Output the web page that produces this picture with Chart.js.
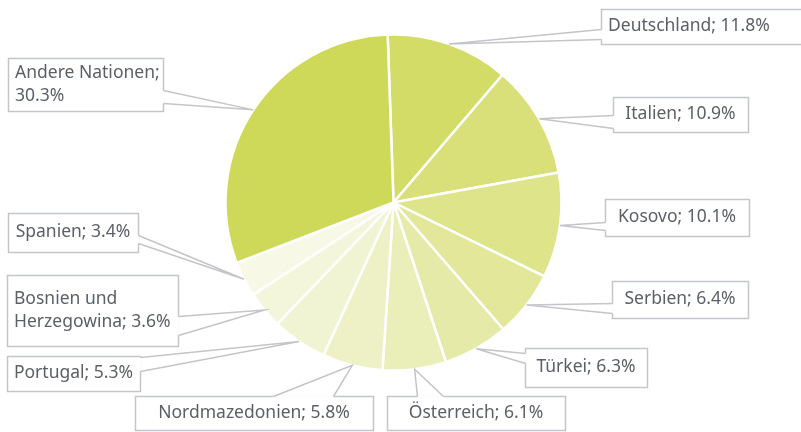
<!DOCTYPE html>
<html>
<head>
<meta charset="utf-8">
<script src="https://cdn.jsdelivr.net/npm/chart.js@4"></script>
<style>
  html, body { margin: 0; padding: 0; background: #fff; }
  #wrap { width: 801px; height: 432px; }
</style>
</head>
<body>
<div id="wrap"><canvas id="pie" width="801" height="432"></canvas></div>
<script>
/* DATA */
const nations = ["Deutschland", "Italien", "Kosovo", "Serbien", "Türkei", "Österreich",
  "Nordmazedonien", "Portugal", "Bosnien und Herzegowina", "Spanien", "Andere Nationen"];
const shares = [11.8, 10.9, 10.1, 6.4, 6.3, 6.1, 5.8, 5.3, 3.6, 3.4, 30.3];

/* STYLE */
const sliceColors = ["#d4dc68", "#d9e07a", "#dee48a", "#e2e799", "#e6eaa8", "#eaeeb8",
  "#eef1c6", "#f1f4d2", "#f4f6dc", "#f7f8e6", "#cfd959"];
const TEXT = "#5b5f66";
const LINE = "#c4c5c9";
const FONT = "17.5px 'Noto Sans'";

// callout boxes: x, y, w, h, text lines, side the pointer leaves from, base span along that side
const boxes = [
  { x: 601, y: 9, w: 210, h: 35, lines: ["Deutschland; 11.8%"], align: "left", side: "left", b: [29, 39] },
  { x: 613, y: 97, w: 135, h: 35, lines: ["Italien; 10.9%"], side: "left", b: [115, 128] },
  { x: 605, y: 199, w: 144, h: 37, lines: ["Kosovo; 10.1%"], side: "left", b: [222, 230] },
  { x: 612, y: 281, w: 136, h: 37, lines: ["Serbien; 6.4%"], side: "left", b: [303, 313] },
  { x: 525, y: 348, w: 122, h: 39, lines: ["Türkei; 6.3%"], side: "left", b: [353, 363] },
  { x: 387, y: 396, w: 178, h: 34, lines: ["Österreich; 6.1%"], side: "top", b: [417, 443] },
  { x: 135, y: 396, w: 238, h: 34, lines: ["Nordmazedonien; 5.8%"], side: "top", b: [273, 333] },
  { x: 7, y: 356, w: 133, h: 35, lines: ["Portugal; 5.3%"], side: "right", b: [357, 371] },
  { x: 7, y: 275, w: 171, h: 71, lines: ["Bosnien und", "Herzegowina; 3.6%"], align: "left", side: "right", b: [316, 335] },
  { x: 8, y: 213, w: 130, h: 39, lines: ["Spanien; 3.4%"], side: "right", b: [235, 243] },
  { x: 8, y: 58, w: 155, h: 53, lines: ["Andere Nationen;", "30.3%"], align: "left", side: "right", b: [90, 103] }
];

/* CALLOUTS */
const callouts = {
  id: "callouts",
  afterDraw(c) {
    const ctx = c.ctx;
    const arcs = c.getDatasetMeta(0).data;
    ctx.save();
    ctx.font = FONT;
    arcs.forEach((a, i) => {
      const bx = boxes[i];
      const mid = (a.startAngle + a.endAngle) / 2;
      const ax = a.x + Math.cos(mid) * a.outerRadius;
      const ay = a.y + Math.sin(mid) * a.outerRadius;
      let p1, p2;
      if (bx.side === "left") { p1 = [bx.x, bx.b[0]]; p2 = [bx.x, bx.b[1]]; }
      else if (bx.side === "right") { p1 = [bx.x + bx.w, bx.b[0]]; p2 = [bx.x + bx.w, bx.b[1]]; }
      else { p1 = [bx.b[0], bx.y]; p2 = [bx.b[1], bx.y]; }

      ctx.fillStyle = "#fff";
      ctx.fillRect(bx.x, bx.y, bx.w, bx.h);
      ctx.lineWidth = 1.5;
      ctx.strokeStyle = LINE;
      ctx.strokeRect(bx.x + 0.5, bx.y + 0.5, bx.w, bx.h);
      // open the border where the pointer starts
      ctx.strokeStyle = "#fff";
      ctx.lineWidth = 2.5;
      ctx.beginPath();
      ctx.moveTo(p1[0] + 0.5, p1[1] + 0.5);
      ctx.lineTo(p2[0] + 0.5, p2[1] + 0.5);
      ctx.stroke();
      ctx.lineWidth = 1.5;
      ctx.strokeStyle = LINE;
      ctx.beginPath();
      ctx.moveTo(p1[0] + 0.5, p1[1] + 0.5);
      ctx.lineTo(ax, ay);
      ctx.lineTo(p2[0] + 0.5, p2[1] + 0.5);
      ctx.stroke();

      ctx.fillStyle = TEXT;
      ctx.textBaseline = "middle";
      const lh = 23;
      const top = bx.y + bx.h / 2 - (bx.lines.length - 1) * lh / 2;
      bx.lines.forEach((t, k) => {
        if (bx.align === "left") {
          ctx.textAlign = "left";
          ctx.fillText(t, bx.x + 7, top + k * lh);
        } else {
          ctx.textAlign = "center";
          ctx.fillText(t, bx.x + bx.w / 2, top + k * lh);
        }
      });
    });
    ctx.restore();
  }
};

new Chart(document.getElementById("pie"), {
  type: "pie",
  data: {
    labels: nations,
    datasets: [{
      data: shares,
      backgroundColor: sliceColors,
      borderColor: "#fff",
      borderWidth: 2.5
    }]
  },
  options: {
    responsive: false,
    animation: false,
    rotation: -2,
    radius: 168,
    layout: { padding: { left: 0, right: 14, top: 0, bottom: 27 } },
    plugins: { legend: { display: false }, tooltip: { enabled: false } }
  },
  plugins: [callouts]
});
</script>
</body>
</html>
